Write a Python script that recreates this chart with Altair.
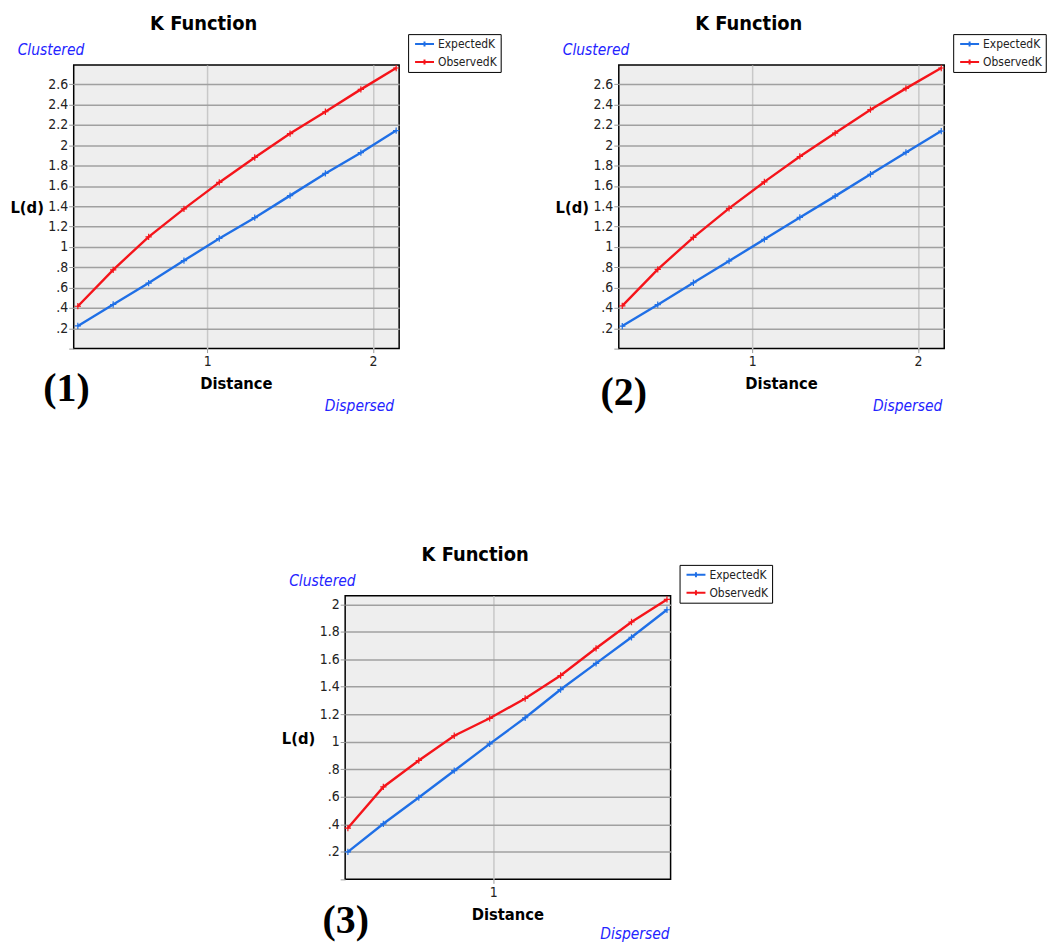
import altair as alt
import pandas as pd

# ---------------- data ----------------
series = ["ExpectedK", "ObservedK"]
series_colors = ["#1f6fe6", "#f5141a"]

# panel (1)
dist_1 = [0.22, 0.433, 0.647, 0.86, 1.073, 1.287, 1.5, 1.713, 1.927, 2.14]
expected_1 = [0.223, 0.434, 0.645, 0.866, 1.083, 1.288, 1.505, 1.723, 1.927, 2.145]
observed_1 = [0.417, 0.775, 1.10, 1.375, 1.635, 1.88, 2.115, 2.33, 2.55, 2.76]

# panel (2)
dist_2 = [0.216, 0.43, 0.645, 0.86, 1.073, 1.287, 1.5, 1.713, 1.927, 2.14]
expected_2 = [0.222, 0.432, 0.648, 0.862, 1.075, 1.29, 1.5, 1.715, 1.93, 2.14]
observed_2 = [0.42, 0.78, 1.095, 1.38, 1.64, 1.89, 2.12, 2.35, 2.56, 2.76]

# panel (3)
dist_3 = [0.2, 0.395, 0.59, 0.785, 0.98, 1.175, 1.37, 1.565, 1.76, 1.955]
expected_3 = [0.2, 0.404, 0.595, 0.79, 0.985, 1.175, 1.38, 1.57, 1.76, 1.96]
observed_3 = [0.373, 0.672, 0.864, 1.044, 1.171, 1.315, 1.482, 1.68, 1.871, 2.035]

# axes
x_domain_12 = [0.195, 2.158]
y_domain_12 = [0.0, 2.79]
x_domain_3 = [0.185, 1.975]
y_domain_3 = [0.0, 2.062]
x_ticks_12 = [1, 2]
x_ticks_3 = [1]
y_ticks_12 = [0, 0.2, 0.4, 0.6, 0.8, 1, 1.2, 1.4, 1.6, 1.8, 2, 2.2, 2.4, 2.6]
y_ticks_3 = [0, 0.2, 0.4, 0.6, 0.8, 1, 1.2, 1.4, 1.6, 1.8, 2]

# texts
title_text = "K Function"
x_title = "Distance"
y_title = "L(d)"
top_note = "Clustered"
bottom_note = "Dispersed"
panel_tags = ["(1)", "(2)", "(3)"]

FONT = "DejaVu Sans Condensed"
W, H = 327, 285
LEG_X, LEG_Y = 336, -31
LEG_W, LEG_H = 89.5, 34

one = pd.DataFrame({"k": [0]})


def text(label, x, y, **kw):
    return alt.Chart(one).mark_text(**kw).encode(
        x=alt.value(x), y=alt.value(y), text=alt.value(label)
    )


def panel(dist, exp, obs, xdom, ydom, xticks, yticks, tag, tag_x, tag_y,
          disp_x, disp_y, box):
    n = len(dist)
    df = pd.DataFrame({
        "Distance": dist + dist,
        "L": exp + obs,
        "Series": [series[0]] * n + [series[1]] * n,
    })
    x = alt.X(
        "Distance:Q",
        scale=alt.Scale(domain=xdom, nice=False, zero=False),
        axis=alt.Axis(
            values=xticks, title=None, format="~g", grid=True,
            gridColor="#c8c8c8", gridWidth=1.5, domain=False,
            tickColor="#999999", tickSize=4, labelPadding=2,
            labelFontSize=14, labelColor="#222222", labelFont=FONT,
        ),
    )
    y = alt.Y(
        "L:Q",
        scale=alt.Scale(domain=ydom, nice=False, zero=False),
        axis=alt.Axis(
            values=yticks, title=None, grid=True,
            gridColor="#a0a0a0", gridWidth=1.5,
            gridOpacity={"condition": {"test": "datum.value == 0", "value": 0}, "value": 1},
            domain=False, tickColor="#999999", tickSize=5, labelPadding=1,
            labelFontSize=14, labelColor="#222222", labelFont=FONT,
            labelExpr="datum.value == 0 ? '' : (datum.value < 1 ? substring(format(datum.value, '.1f'), 1) : format(datum.value, '~g'))",
        ),
    )
    legend = alt.Legend(
        title=None, orient="none", legendX=LEG_X, legendY=LEG_Y,
        symbolType="M-0.5,0H2.67M1.08,-0.42V0.42", symbolSize=144, symbolStrokeWidth=2,
        fillColor="white", strokeColor="black", padding=3, rowPadding=4,
        labelFont=FONT, labelFontSize=12, labelColor="#222222", labelOffset=13,
    )
    color = alt.Color(
        "Series:N", scale=alt.Scale(domain=series, range=series_colors), legend=legend
    )
    base = alt.Chart(df)
    lines = base.mark_line(strokeWidth=2.4).encode(x=x, y=y, color=color)
    pts = base.mark_point(
        shape="M-1,0H1M0,-1V1", size=40, filled=False, strokeWidth=1.2, opacity=1
    ).encode(x=x, y=y, color=color)

    anchor = alt.Chart(one).mark_rect(opacity=0).encode(
        x=alt.value(box[0]), x2=alt.value(box[1]), y=alt.value(box[2]), y2=alt.value(box[3])
    )
    shadow = alt.Chart(one).mark_rect(color="black").encode(
        x=alt.value(LEG_X + 4), x2=alt.value(LEG_X + LEG_W + 4),
        y=alt.value(LEG_Y + 4), y2=alt.value(LEG_Y + LEG_H + 4),
    )
    texts = [
        text(title_text, 130.6, -35, font=FONT, fontSize=20, fontWeight="bold",
             align="center", baseline="alphabetic", color="black"),
        text(top_note, -56.3, -10, font=FONT, fontSize=15.5, fontStyle="italic",
             align="left", baseline="alphabetic", color="#2424ff"),
        text(bottom_note, disp_x, disp_y, font=FONT, fontSize=15.5, fontStyle="italic",
             align="right", baseline="alphabetic", color="#2424ff"),
        text(y_title, -63.6, 143.5, font=FONT, fontSize=16.5, fontWeight="bold",
             align="left", baseline="middle", color="black"),
        text(x_title, W / 2, 325.5, font=FONT, fontSize=16.5, fontWeight="bold",
             align="center", baseline="alphabetic", color="black"),
        text(tag, tag_x, tag_y, font="Liberation Serif", fontSize=40, fontWeight="bold",
             align="center", baseline="alphabetic", color="black"),
    ]
    return alt.layer(anchor, shadow, lines, pts, *texts).properties(width=W, height=H)


p1 = panel(dist_1, expected_1, observed_1, x_domain_12, y_domain_12, x_ticks_12,
           y_ticks_12, panel_tags[0], -7.3, 338, 322, 348, [-64.3, 446, -53.7, 360])
p2 = panel(dist_2, expected_2, observed_2, x_domain_12, y_domain_12, x_ticks_12,
           y_ticks_12, panel_tags[1], 5, 342, 325, 348, [-64.3, 432.5, -53.7, 360])
p3 = panel(dist_3, expected_3, observed_3, x_domain_3, y_domain_3, x_ticks_3,
           y_ticks_3, panel_tags[2], 0.6, 339, 326, 344.5, [-70, 434.7, -53.7, 340])

row1 = alt.hconcat(p1, p2, spacing=34.7).resolve_scale(color="independent")
chart = (
    alt.vconcat(row1, p3, spacing=117.3, center=True)
    .resolve_scale(color="independent")
    .properties(padding=0)
    .configure(font=FONT)
    .configure_view(fill="#eeeeee", stroke="black", strokeWidth=1.5)
)

chart.save("out.html", embed_options={"renderer": "svg", "actions": False})
